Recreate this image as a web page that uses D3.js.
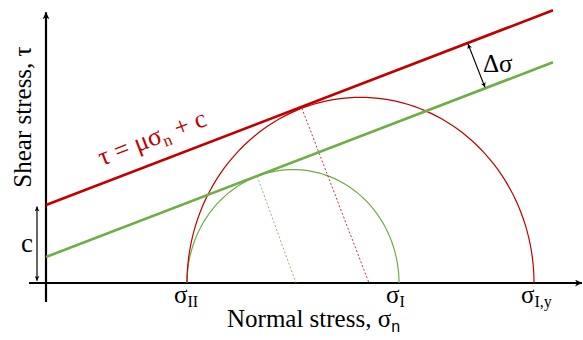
<!DOCTYPE html>
<html>
<head>
<meta charset="utf-8">
<script src="https://cdn.jsdelivr.net/npm/d3@7"></script>
<style>
  body { margin: 0; background: #fff; }
</style>
</head>
<body>
<svg id="chart" width="583" height="340"></svg>
<script>
// Mohr circles (stress units) and Coulomb failure lines
var circleNames = ['initial', 'yield'];
var sigmaMin = [1.41, 1.41];
var sigmaMax = [3.53, 4.88];
var cohesion = [0.243, 0.729];     // intercept of green / red line
var friction = 0.359;              // mu
var footSigma = [2.50, 3.23];      // where dotted normals meet the axis
var lineEnd = 5.07;
var deltaSigmaAt = [4.22, 4.39];   // delta sigma arrow: on red line, on green line
var cArrowAt = -0.09;
var tickBase = ['σ', 'σ', 'σ'];
var tickSub = ['II', 'I', 'I,y'];
var tickValue = [1.41, 3.53, 4.88];

var colors = ['#70ad47', '#c00000'];
var serif = "'Liberation Serif', 'Times New Roman', serif";

var svg = d3.select('#chart');
var x = d3.scaleLinear().domain([0, 5.36]).range([46, 582]);
var y = d3.scaleLinear().domain([0, 2.5]).range([283, 15.5]);

var defs = svg.append('defs');
function marker(id, w, h) {
    defs.append('marker')
        .attr('id', id)
        .attr('viewBox', '0 0 10 10')
        .attr('refX', 10).attr('refY', 5)
        .attr('markerUnits', 'userSpaceOnUse')
        .attr('markerWidth', w).attr('markerHeight', h)
        .attr('orient', 'auto-start-reverse')
        .append('path')
        .attr('d', 'M0,0 L10,5 L0,10 L3,5 Z')
        .attr('fill', '#000');
}
marker('axisArrow', 9, 7);
marker('smallArrow', 7, 5);

//-----------------------------------------------------------------------------
// axes
svg.append('line')
    .attr('x1', x(-0.17)).attr('x2', x(5.36))
    .attr('y1', y(0)).attr('y2', y(0))
    .attr('stroke', '#000').attr('stroke-width', 2.2)
    .attr('marker-end', 'url(#axisArrow)');
svg.append('line')
    .attr('x1', x(0)).attr('x2', x(0))
    .attr('y1', y(-0.178)).attr('y2', y(2.53))
    .attr('stroke', '#000').attr('stroke-width', 2.2)
    .attr('marker-end', 'url(#axisArrow)');

//-----------------------------------------------------------------------------
// Mohr circles (drawn as half ellipses since the y scale differs)
var half = d3.range(0, 181, 2).map(function(a) { return a * Math.PI / 180; });
var arc = d3.line()
    .x(function(d) { return x(d.c + d.r * Math.cos(d.a)); })
    .y(function(d) { return y(d.r * Math.sin(d.a)); });

circleNames.forEach(function(name, i) {
    var c = (sigmaMin[i] + sigmaMax[i]) / 2;
    var r = (sigmaMax[i] - sigmaMin[i]) / 2;
    svg.append('path')
        .attr('class', 'mohr ' + name)
        .attr('d', arc(half.map(function(a) { return {c: c, r: r, a: a}; })))
        .attr('fill', 'none')
        .attr('stroke', colors[i])
        .attr('stroke-width', 1.2);

    // dotted normal from tangent point down to axis
    var phi = Math.atan(friction);
    var tx = c - r * Math.sin(phi);
    var ty = r * Math.cos(phi);
    svg.append('line')
        .attr('x1', x(tx)).attr('y1', y(ty))
        .attr('x2', x(footSigma[i])).attr('y2', y(0))
        .attr('stroke', colors[i])
        .attr('stroke-opacity', 0.8)
        .attr('stroke-width', 1)
        .attr('stroke-dasharray', '2,2');
});

//-----------------------------------------------------------------------------
// failure lines
cohesion.forEach(function(c0, i) {
    svg.append('line')
        .attr('x1', x(0)).attr('y1', y(c0))
        .attr('x2', x(lineEnd)).attr('y2', y(c0 + friction * lineEnd))
        .attr('stroke', colors[i])
        .attr('stroke-width', 2.6);
});

// c arrow
svg.append('line')
    .attr('x1', x(cArrowAt)).attr('x2', x(cArrowAt))
    .attr('y1', y(0.02)).attr('y2', y(cohesion[1] - 0.015))
    .attr('stroke', '#000').attr('stroke-width', 1.2)
    .attr('marker-start', 'url(#smallArrow)')
    .attr('marker-end', 'url(#smallArrow)');
svg.append('text')
    .attr('x', 33).attr('y', 252)
    .attr('text-anchor', 'end')
    .attr('font-family', serif)
    .attr('font-size', 27)
    .text('c');

// delta sigma arrow
svg.append('line')
    .attr('x1', x(deltaSigmaAt[0])).attr('y1', y(cohesion[1] + friction * deltaSigmaAt[0]) + 1)
    .attr('x2', x(deltaSigmaAt[1])).attr('y2', y(cohesion[0] + friction * deltaSigmaAt[1]) - 1)
    .attr('stroke', '#000').attr('stroke-width', 1.2)
    .attr('marker-start', 'url(#smallArrow)')
    .attr('marker-end', 'url(#smallArrow)');
svg.append('text')
    .attr('x', 483).attr('y', 72)
    .attr('font-family', serif)
    .attr('font-size', 25)
    .text('Δσ');

// formula along red line
var ang = -Math.atan((y(0) - y(friction)) / (x(1) - x(0))) * 180 / Math.PI;
var fx = 102, fy = 166;
var formula = svg.append('text')
    .attr('transform', 'translate(' + fx + ',' + fy + ') rotate(' + ang + ')')
    .attr('font-family', serif)
    .attr('font-size', 26)
    .attr('fill', colors[1]);
formula.append('tspan').text('τ = μσ');
formula.append('tspan').attr('font-size', 17).attr('dy', 5).text('n');
formula.append('tspan').attr('dy', -5).text(' + c');

//-----------------------------------------------------------------------------
// sigma labels
tickValue.forEach(function(v, i) {
    var t = svg.append('text')
        .attr('x', x(v) - 13).attr('y', 303)
        .attr('font-family', serif)
        .attr('font-size', 25);
    t.append('tspan').text(tickBase[i]);
    t.append('tspan').attr('font-size', 16).attr('dy', 4).text(tickSub[i]);
});

// axis titles
var xt = svg.append('text')
    .attr('x', 227).attr('y', 327)
    .attr('font-family', serif)
    .attr('font-size', 25);
xt.append('tspan').text('Normal stress, σ');
xt.append('tspan').attr('font-size', 16).attr('dy', 5)
    .attr('font-family', "'Liberation Sans', Arial, sans-serif").text('n');

svg.append('text')
    .attr('transform', 'translate(31,117) rotate(-90)')
    .attr('text-anchor', 'middle')
    .attr('font-family', serif)
    .attr('font-size', 25)
    .text('Shear stress, τ');
</script>
</body>
</html>
